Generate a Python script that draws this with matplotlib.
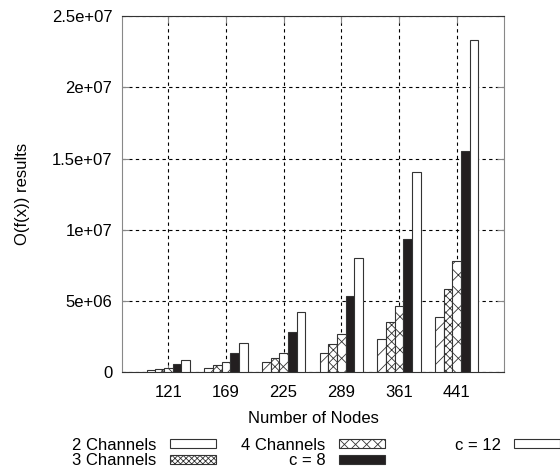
import numpy as np
import matplotlib
matplotlib.use("Agg")
import matplotlib.pyplot as plt
from matplotlib.patches import Patch
from matplotlib.ticker import FuncFormatter

# O(f(x)) per network size, one series per channel setting
nodes = ["121", "169", "225", "289", "361", "441"]
series_labels = ["2 Channels", "3 Channels", "4 Channels", "c = 8", "c = 12"]
ch2 = [0.14e6, 0.33e6, 0.70e6, 1.33e6, 2.33e6, 3.90e6]
ch3 = [0.21e6, 0.49e6, 1.03e6, 2.01e6, 3.50e6, 5.82e6]
ch4 = [0.28e6, 0.70e6, 1.38e6, 2.66e6, 4.67e6, 7.78e6]
c8 = [0.61e6, 1.38e6, 2.82e6, 5.35e6, 9.37e6, 15.53e6]
c12 = [0.84e6, 2.05e6, 4.22e6, 7.99e6, 14.04e6, 23.29e6]

plt.rcParams.update({"font.family": ["Liberation Sans", "DejaVu Sans"],
                     "font.size": 12, "hatch.linewidth": 0.6})

fig = plt.figure(figsize=(5.6, 4.73), dpi=100)
ax = fig.add_axes([0.218, 0.213, 0.682, 0.753])

fills = ["white", "white", "white", "#231f20", "white"]
hatches = ["//", "xxxx", "xx", None, None]
key_hatches = [None, "xxxxxx", "xxx", None, None]   # how the small legend keys look
data = [ch2, ch3, ch4, c8, c12]

x = np.arange(len(nodes)); w = 0.15
for j, vals in enumerate(data):
    ax.bar(x + (j - 2) * w, vals, w, color=fills[j], hatch=hatches[j],
           edgecolor="#333333", linewidth=0.8, zorder=3)

ax.set_xlim(-0.8, 5.82)
ax.set_ylim(0, 2.5e7)
ax.set_xticks(x); ax.set_xticklabels(nodes)
ax.set_yticks(np.arange(0, 2.51e7, 5e6))
ax.yaxis.set_major_formatter(FuncFormatter(lambda v, p: "%g" % v))
ax.tick_params(direction="in", length=5, color="#888888", top=True, right=True)
ax.tick_params(axis="x", pad=9)
ax.tick_params(axis="y", pad=7)
ax.grid(True, color="black", ls=(0, (3, 3)), lw=0.8, zorder=1)
ax.set_axisbelow(True)
for s in ("left", "right"):
    ax.spines[s].set_color("#888888")
for s in ("top", "bottom"):
    ax.spines[s].set_color("#333333")

ax.set_xlabel("Number of Nodes", labelpad=8)
ax.set_ylabel("O(f(x)) results", labelpad=16)

handles = [Patch(facecolor=fills[j], hatch=key_hatches[j], edgecolor="#333333",
                 linewidth=0.8) for j in range(len(data))]
kw = dict(frameon=False, markerfirst=False, handlelength=2.75, handleheight=0.5,
          handletextpad=0.8, labelspacing=0.05, borderpad=0, borderaxespad=0)
fig.legend(handles[:4], series_labels[:4], ncol=2, columnspacing=1.55,
           loc="center left", bbox_to_anchor=(72 / 560, 1 - 453 / 473), **kw)
fig.legend(handles[4:], series_labels[4:], loc="center left",
           bbox_to_anchor=(455 / 560, 1 - 445 / 473), **kw)

fig.savefig("out.png", dpi=100)
